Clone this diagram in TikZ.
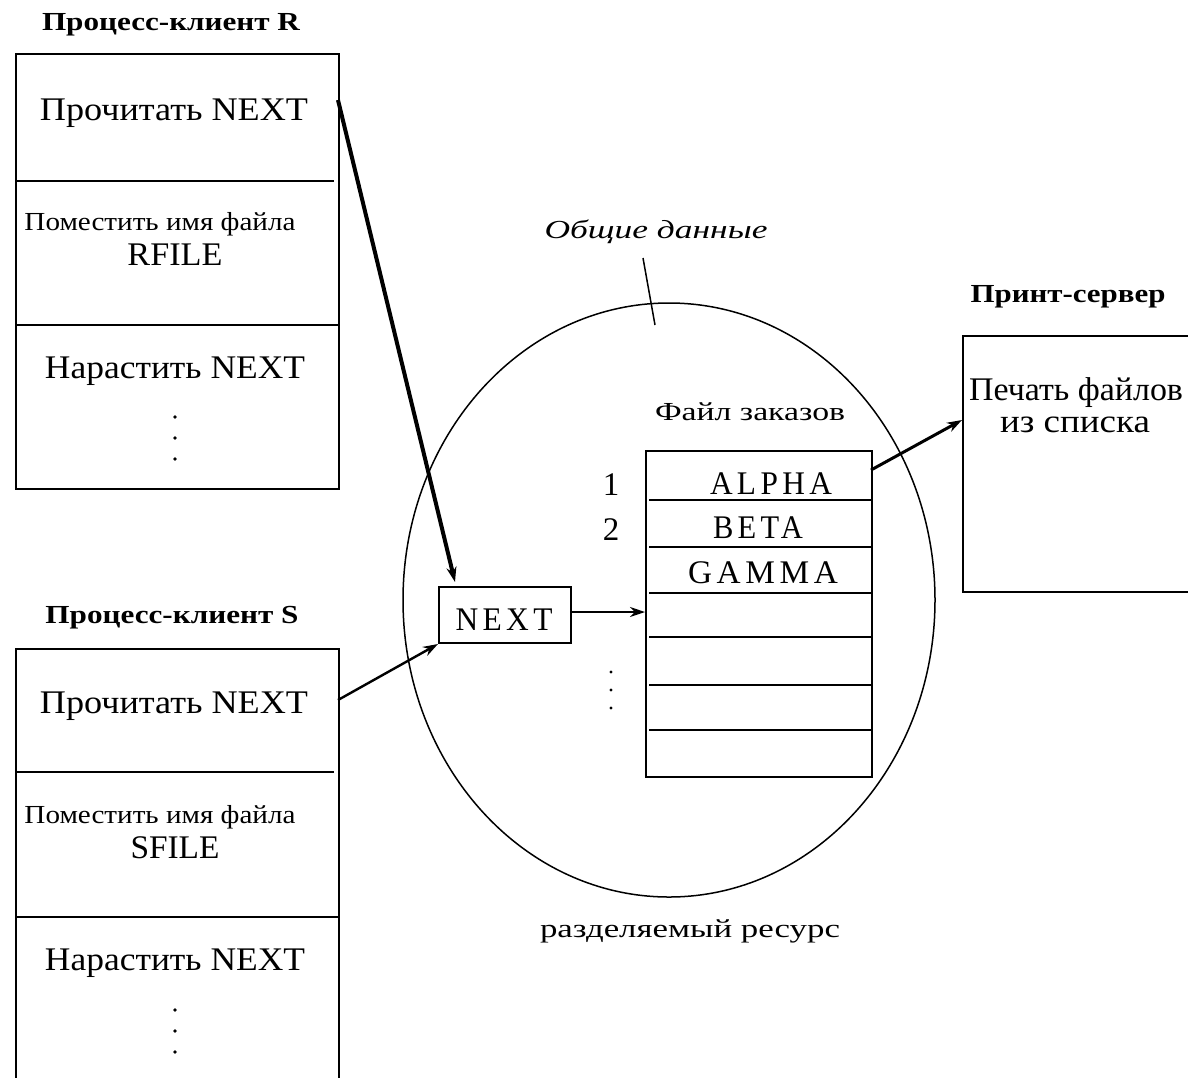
\documentclass[tikz,border=0pt]{standalone}
\usepackage{fontspec}
\setmainfont{Liberation Serif}
\newfontfamily\spacedf[LetterSpace=14]{Liberation Serif}
\usetikzlibrary{arrows.meta}
\newcommand{\fw}[2]{\resizebox{#1}{\height}{#2}}
\begin{document}
\begin{tikzpicture}[x=1pt,y=-1pt,
  txt/.style={inner sep=0pt, anchor=base},
  big/.style={font=\fontsize{33}{36}\selectfont},
  mid/.style={font=\fontsize{26}{30}\selectfont},
  ttl/.style={font=\fontsize{26}{28}\selectfont\bfseries},
  boxline/.style={line width=2pt},
  procbox/.style={draw, boxline, inner sep=0pt, anchor=north west},
  dotc/.style={fill=black},
  conn/.style={-{Stealth[length=15pt,width=10pt]}}
]
\useasboundingbox (0,0) rectangle (1188,1077);
\clip (0,0) rectangle (1188,1077);
\fill[white] (0,0) rectangle (1188,1077);

% ---------- Process client R ----------
\node[txt,ttl] (titleR) at (171,30) {\fw{258pt}{Процесс-клиент R}};
\node[procbox, minimum width=323pt, minimum height=435pt] (boxR) at (15,53) {};
\draw[boxline] (15,181) -- (334,181);
\draw[boxline] (15,325) -- (338,325);
\node[txt,big] (readR) at (174,120) {\fw{268pt}{Прочитать NEXT}};
\node[txt,mid] (putR) at (160,230) {\fw{271pt}{Поместить имя файла}};
\node[txt,big] (fileR) at (175,265) {\fw{95pt}{RFILE}};
\node[txt,big] (incR) at (175,378) {\fw{260pt}{Нарастить NEXT}};
\foreach \yy in {417,438,459} \fill[dotc] (175,\yy) circle[radius=1.8pt];

% ---------- Process client S ----------
\node[txt,ttl] (titleS) at (172,623) {\fw{253pt}{Процесс-клиент S}};
\node[procbox, minimum width=323pt, minimum height=460pt] (boxS) at (15,648) {};
\draw[boxline] (15,772) -- (334,772);
\draw[boxline] (15,917) -- (338,917);
\node[txt,big] (readS) at (174,713) {\fw{268pt}{Прочитать NEXT}};
\node[txt,mid] (putS) at (160,823) {\fw{271pt}{Поместить имя файла}};
\node[txt,big] (fileS) at (175,858) {\fw{89pt}{SFILE}};
\node[txt,big] (incS) at (175,970) {\fw{260pt}{Нарастить NEXT}};
\foreach \yy in {1010,1031,1052} \fill[dotc] (175,\yy) circle[radius=1.8pt];

% ---------- Shared data ----------
\draw[line width=1.5pt] (669,600) ellipse [x radius=266pt, y radius=297pt];
\node[txt,mid] (shared) at (656,238) {\fw{223pt}{\itshape Общие данные}};
\draw[line width=1.5pt] (643,258) -- (655,325);
\node[txt,mid] (resource) at (690,937) {\fw{300pt}{разделяемый ресурс}};

% order file
\node[txt,mid] (ordtitle) at (750,420) {\fw{190pt}{Файл заказов}};
\node[procbox, minimum width=226pt, minimum height=326pt] (tbl) at (645,450) {};
\foreach \yy in {500,547,593,637,685,730} \draw[boxline] (649,\yy) -- (871,\yy);
\node[txt,big] (alpha) at (771,494) {\fw{122pt}{\spacedf ALPHA}};
\node[txt,big] (beta) at (758,538) {\fw{90pt}{\spacedf BETA}};
\node[txt,big] (gamma) at (763,583) {\fw{150pt}{\spacedf GAMMA}};
\node[txt,big] (n1) at (611,495) {1};
\node[txt,big] (n2) at (611,540) {2};
\foreach \yy in {672,690,708} \fill[dotc] (611,\yy) circle[radius=1.6pt];

% NEXT pointer
\node[procbox, minimum width=132pt, minimum height=56pt] (next) at (438,586) {};
\node[txt,big] (nexttxt) at (504,630) {\fw{97pt}{\spacedf NEXT}};

% ---------- Print server ----------
\node[txt,ttl] (titleP) at (1068,302) {\fw{195pt}{Принт-сервер}};
\node[procbox, minimum width=300pt, minimum height=256pt] (print) at (962,335) {};
\node[txt,big] (printtxt) at (1076,400) {\fw{214pt}{Печать файлов}};
\node[txt,big] (printtxt2) at (1075,432) {\fw{150pt}{из списка}};

% ---------- Connectors ----------
\coordinate (rOut) at (338,100);
\coordinate (rIn) at (455,582);
\draw[conn, line width=4pt] (rOut) -- (rIn);
\coordinate (sOut) at (338,700);
\draw[conn, line width=2.4pt] (sOut) -- (next.south west);
\coordinate (tIn) at (645,612);
\draw[conn, line width=1.8pt] (next.east |- tIn) -- (tIn);
\coordinate (tOut) at (871,470);
\coordinate (pIn) at (962,420);
\draw[conn, line width=3pt] (tOut) -- (pIn);
\end{tikzpicture}
\end{document}
